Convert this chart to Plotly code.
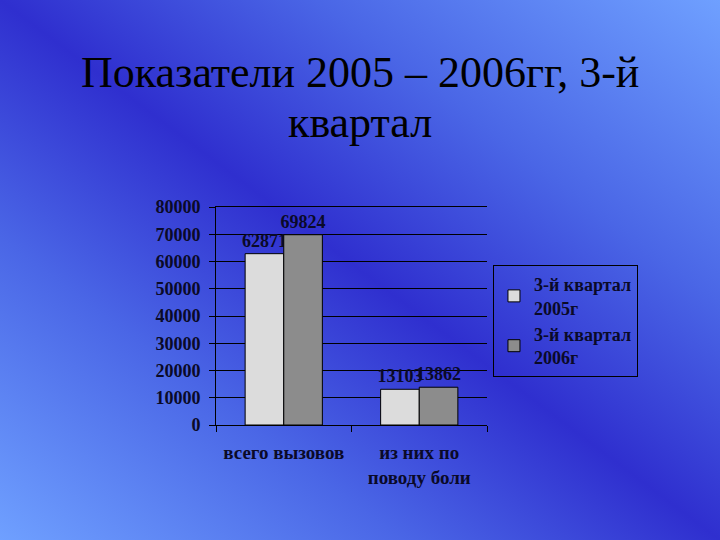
import base64
import plotly.graph_objects as go

categories = ["всего вызовов", "из них по<br>поводу боли"]
series_names = ["3-й квартал<br>2005г", "3-й квартал<br>2006г"]
values_2005 = [62871, 13103]
values_2006 = [69824, 13862]
y_ticks = [0, 10000, 20000, 30000, 40000, 50000, 60000, 70000, 80000]
title_lines = ["Показатели 2005 – 2006гг, 3-й", "квартал"]

FONT = "Liberation Serif, Times New Roman, serif"
TXT = "#0a0a28"

svg = """<svg xmlns='http://www.w3.org/2000/svg' width='720' height='540' viewBox='0 0 720 540' preserveAspectRatio='none'>
<defs><linearGradient id='g' x1='0' y1='1' x2='1' y2='0'>
<stop offset='0' stop-color='#6fa0ff'/>
<stop offset='0.28' stop-color='#4a66e6'/>
<stop offset='0.5' stop-color='#2f2fcf'/>
<stop offset='0.72' stop-color='#4a66e6'/>
<stop offset='1' stop-color='#6fa0ff'/>
</linearGradient></defs>
<rect width='720' height='540' fill='url(#g)'/></svg>"""
bg_src = "data:image/svg+xml;base64," + base64.b64encode(svg.encode()).decode()

fig = go.Figure()
fig.add_trace(go.Bar(
    x=categories, y=values_2005, name=series_names[0],
    marker=dict(color="#dcdcdc", line=dict(color="black", width=1)),
    text=[str(v) for v in values_2005], textposition="outside", constraintext="none",
    textfont=dict(family=FONT, size=18, color=TXT, weight="bold"),
    cliponaxis=False,
))
fig.add_trace(go.Bar(
    x=categories, y=values_2006, name=series_names[1],
    marker=dict(color="#8c8c8c", line=dict(color="black", width=1)),
    text=[str(v) for v in values_2006], textposition="outside", constraintext="none",
    textfont=dict(family=FONT, size=18, color=TXT, weight="bold"),
    cliponaxis=False,
))

title_annots = [
    dict(text=line, x=(360-216)/271, y=1+(207-yc)/218,
         xref="paper", yref="paper", xanchor="center", yanchor="middle",
         showarrow=False, font=dict(family=FONT, size=44, color="black"))
    for line, yc in zip(title_lines, [72, 122])
]

fig.update_layout(
    width=720, height=540,
    margin=dict(l=216, r=233, t=207, b=115),
    paper_bgcolor="#3a4ad8",
    plot_bgcolor="rgba(0,0,0,0)",
    barmode="group", bargap=0.43, bargroupgap=0,
    showlegend=True,
    legend=dict(
        x=1.022, y=0.734, xanchor="left", yanchor="top",
        bgcolor="rgba(0,0,0,0)", bordercolor="black", borderwidth=1,
        font=dict(family=FONT, size=18, color=TXT, weight="bold"),
        tracegroupgap=0, itemwidth=30,
    ),
    images=[dict(source=bg_src, xref="paper", yref="paper", x=-216/271, y=1+207/218,
                 sizex=720/271, sizey=540/218, xanchor="left", yanchor="top",
                 sizing="stretch", layer="below")],
    annotations=title_annots,
    font=dict(family=FONT, color=TXT),
)
fig.update_xaxes(
    showline=True, linecolor="black", linewidth=1, mirror=True,
    ticks="outside", tickson="boundaries", ticklen=6, tickcolor="black",
    tickfont=dict(family=FONT, size=19, color=TXT, weight="bold"),
    ticklabelstandoff=10,
)
fig.update_yaxes(
    range=[0, 80000], tickvals=y_ticks, tickformat="d",
    showline=True, linecolor="black", linewidth=1,
    ticks="outside", ticklen=6, tickcolor="black",
    showgrid=True, gridcolor="black", gridwidth=1,
    zeroline=False,
    tickfont=dict(family=FONT, size=18, color=TXT, weight="bold"),
    ticklabelstandoff=5,
)
fig.write_html("out.html", config={"displayModeBar": False},
               post_script="document.body.style.margin='0';document.body.style.padding='0';")
